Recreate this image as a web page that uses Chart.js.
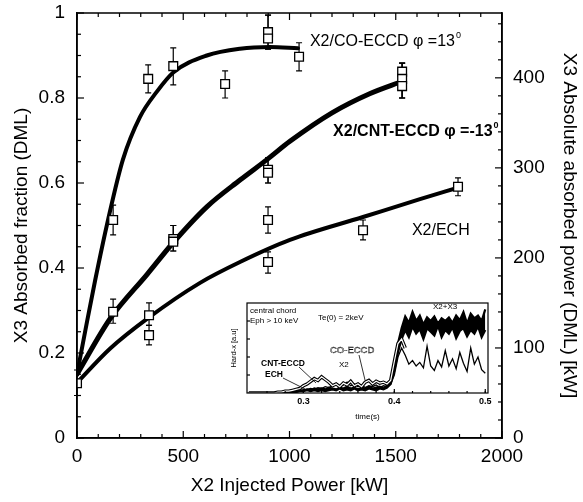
<!DOCTYPE html>
<html><head><meta charset="utf-8">
<script src="https://cdn.jsdelivr.net/npm/chart.js@4"></script>
<style>
html,body{margin:0;padding:0;background:#fff;}
#wrap{position:relative;width:583px;height:502px;overflow:hidden;}
#main{position:absolute;left:0;top:0;}
#inset{position:absolute;left:228px;top:300px;}
</style></head><body>
<div id="wrap">
<canvas id="main" width="583" height="502"></canvas>
<canvas id="inset" width="275" height="125"></canvas>
</div>
<script>
const FONT = "'Liberation Sans', Arial, Helvetica, sans-serif";

// ---------------- main chart data ----------------
const rightTickValues = [0, 100, 200, 300, 400];

// measured points (X2 injected power kW, X3 absorbed fraction) with error bars
const coX  = [170, 335, 453, 697, 899, 899, 1045];
const coY  = [0.513, 0.845, 0.875, 0.833, 0.955, 0.94, 0.897];
const coLo = [0.478, 0.812, 0.831, 0.800, 0.915, 0.915, 0.864];
const coHi = [0.548, 0.878, 0.918, 0.864, 0.995, 0.995, 0.930];

const cntX  = [170, 453, 453, 899, 899, 1530, 1530, 1530];
const cntY  = [0.297, 0.468, 0.462, 0.631, 0.624, 0.862, 0.845, 0.828];
const cntLo = [0.270, 0.440, 0.440, 0.600, 0.600, 0.800, 0.800, 0.800];
const cntHi = [0.327, 0.500, 0.500, 0.659, 0.659, 0.882, 0.882, 0.882];

const echX  = [0, 339, 339, 899, 899, 1346, 1793];
const echY  = [0.129, 0.289, 0.242, 0.513, 0.414, 0.489, 0.591];
const echLo = [0.100, 0.265, 0.219, 0.482, 0.388, 0.466, 0.570];
const echHi = [0.160, 0.318, 0.265, 0.544, 0.438, 0.513, 0.612];

// fitted curves
const coFitX = [0, 40, 85, 146, 216, 296, 376, 453, 611, 767, 908, 1040];
const coFitY = [0.15, 0.255, 0.37, 0.513, 0.655, 0.755, 0.815, 0.86, 0.9, 0.916, 0.92, 0.917];
const cntFitX = [0, 155, 330, 453, 611, 767, 894, 1002, 1200, 1377, 1535];
const cntFitY = [0.15, 0.28, 0.385, 0.46, 0.544, 0.607, 0.655, 0.698, 0.765, 0.81, 0.84];
const echFitX = [0, 155, 334, 579, 767, 1002, 1346, 1614, 1800];
const echFitY = [0.13, 0.21, 0.282, 0.365, 0.414, 0.466, 0.52, 0.562, 0.59];

// ---------------- inset data (time s, hard-x a.u.) ----------------
const insetTime = [0.240,0.244,0.248,0.252,0.256,0.260,0.264,0.268,0.272,0.276,
  0.280,0.284,0.288,0.292,0.296,0.300,0.304,0.308,0.312,0.316,
  0.320,0.324,0.328,0.332,0.336,0.340,0.344,0.348,0.352,0.356,
  0.360,0.364,0.368,0.372,0.376,0.380,0.384,0.388,0.392,0.396,
  0.400,0.404,0.408,0.412,0.416,0.420,0.424,0.428,0.432,0.436,
  0.440,0.444,0.448,0.452,0.456,0.460,0.464,0.468,0.472,0.476,
  0.480,0.484,0.488,0.492,0.496,0.500];
const traceX2X3a = [0,0,0,0,0,0,0,0,0,0.01,
  0.01,0.01,0.02,0.02,0.03,0.03,0.04,0.03,0.05,0.04,
  0.05,0.04,0.06,0.05,0.04,0.06,0.05,0.07,0.05,0.06,
  0.04,0.06,0.05,0.07,0.05,0.06,0.07,0.05,0.08,0.12,
  0.30,0.55,0.72,0.85,0.78,0.90,0.80,0.86,0.76,0.84,
  0.80,0.85,0.77,0.83,0.80,0.84,0.78,0.86,0.81,0.90,
  0.77,0.88,0.83,0.86,0.80,0.93];
const traceX2X3b = [0,0,0,0,0,0,0,0,0,0,
  0,0,0.01,0.01,0.02,0.02,0.03,0.02,0.03,0.02,
  0.03,0.02,0.03,0.04,0.03,0.05,0.03,0.04,0.03,0.05,
  0.03,0.04,0.03,0.05,0.04,0.03,0.05,0.04,0.06,0.10,
  0.25,0.45,0.60,0.70,0.62,0.74,0.66,0.71,0.60,0.72,
  0.68,0.64,0.75,0.62,0.70,0.66,0.73,0.61,0.69,0.72,
  0.63,0.70,0.66,0.74,0.62,0.70];
const traceX2 = [0,0,0,0,0,0,0,0,0,0,
  0,0.01,0.01,0.02,0.02,0.03,0.04,0.05,0.04,0.06,
  0.05,0.07,0.06,0.08,0.10,0.07,0.09,0.12,0.08,0.10,
  0.07,0.09,0.06,0.08,0.07,0.09,0.06,0.08,0.07,0.10,
  0.20,0.40,0.50,0.42,0.32,0.36,0.30,0.34,0.28,0.52,
  0.30,0.25,0.36,0.29,0.47,0.30,0.38,0.27,0.45,0.33,
  0.24,0.50,0.32,0.40,0.26,0.22];
const traceEccd = [0,0,0,0,0,0,0,0,0.01,0.01,
  0.02,0.02,0.03,0.04,0.05,0.08,0.10,0.13,0.16,0.14,
  0.18,0.15,0.12,0.08,0.10,0.07,0.11,0.09,0.13,0.08,
  0.10,0.07,0.12,0.14,0.10,0.13,0.11,0.12,0.10,0.14,
  0.35,0.55,0.60,0.50,null,null,null,null,null,null,
  null,null,null,null,null,null,null,null,null,null,
  null,null,null,null,null,null];

// ---------------- helpers ----------------
const pts = (xs, ys) => xs.map((v, i) => ({x: v, y: ys[i]}));
const errSeries = [
  {x: coX, lo: coLo, hi: coHi},
  {x: cntX, lo: cntLo, hi: cntHi},
  {x: echX, lo: echLo, hi: echHi}
];
const noPad = s => { s.paddingTop = 0; s.paddingBottom = 0; s.paddingLeft = 0; s.paddingRight = 0; };

const fitDs = (xs, ys, w) => ({
  type: 'scatter', data: pts(xs, ys), showLine: true, borderColor: '#000',
  borderWidth: w, pointRadius: 0, cubicInterpolationMode: 'monotone',
  borderCapStyle: 'round', order: 2, yAxisID: 'y'
});
const markDs = (xs, ys) => ({
  type: 'scatter', data: pts(xs, ys), showLine: false, pointStyle: 'rect',
  pointRadius: 6.2, borderWidth: 1.3, borderColor: '#000', backgroundColor: '#fff',
  pointBorderColor: '#000', pointBackgroundColor: '#fff', order: 0, yAxisID: 'y'
});

const errorBars = {
  id: 'errorBars',
  beforeDatasetsDraw(chart) {
    const {ctx, scales: {x, y}} = chart;
    ctx.save();
    ctx.strokeStyle = '#000'; ctx.lineWidth = 1.2;
    for (const s of errSeries) {
      s.x.forEach((xv, i) => {
        const px = x.getPixelForValue(xv);
        const lo = y.getPixelForValue(s.lo[i]);
        const hi = y.getPixelForValue(s.hi[i]);
        ctx.beginPath();
        ctx.moveTo(px, lo); ctx.lineTo(px, hi);
        ctx.moveTo(px - 3, lo); ctx.lineTo(px + 3, lo);
        ctx.moveTo(px - 3, hi); ctx.lineTo(px + 3, hi);
        ctx.stroke();
      });
    }
    ctx.restore();
  }
};

const frameTicks = {
  id: 'frameTicks',
  afterDraw(chart) {
    const {ctx, chartArea: a, scales: {x, y, y2}} = chart;
    ctx.save();
    ctx.strokeStyle = '#000';
    ctx.lineWidth = 1.5;
    ctx.strokeRect(a.left, a.top, a.right - a.left, a.bottom - a.top);
    ctx.lineWidth = 1.2;
    const seg = (x1, y1, x2, y2_) => { ctx.beginPath(); ctx.moveTo(x1, y1); ctx.lineTo(x2, y2_); ctx.stroke(); };
    for (let v = 0; v <= 2000; v += 100) {
      const px = x.getPixelForValue(v), L = (v % 500 === 0) ? 7 : 4;
      seg(px, a.bottom, px, a.bottom - L);
      seg(px, a.top, px, a.top + L);
    }
    for (let k = 0; k <= 20; k++) {
      const v = k * 0.05, py = y.getPixelForValue(v), L = (k % 4 === 0) ? 7 : 4;
      seg(a.left, py, a.left + L, py);
    }
    for (let v = 0; v <= 460; v += 20) {
      const py = y2.getPixelForValue(v), L = (v % 100 === 0) ? 7 : 4;
      seg(a.right, py, a.right - L, py);
    }
    ctx.restore();
  }
};

const curveLabels = {
  id: 'curveLabels',
  afterDatasetsDraw(chart) {
    const {ctx, scales: {x, y}} = chart;
    ctx.save();
    ctx.fillStyle = '#000';
    ctx.textBaseline = 'middle';
    ctx.textAlign = 'left';
    const put = (xv, yv, txt, bold, sup) => {
      ctx.font = (bold ? 'bold ' : '') + '16px ' + FONT;
      const px = x.getPixelForValue(xv), py = y.getPixelForValue(yv);
      ctx.fillText(txt, px, py);
      if (sup) {
        const w = ctx.measureText(txt).width;
        ctx.font = (bold ? 'bold ' : '') + '9px ' + FONT;
        ctx.fillText(sup, px + w + 1, py - 6);
      }
    };
    put(1096, 0.932, 'X2/CO-ECCD \u03c6 =13', false, '0');
    put(1205, 0.72, 'X2/CNT-ECCD \u03c6 =-13', true, '0');
    put(1576, 0.489, 'X2/ECH', false, null);
    ctx.restore();
  }
};

const mainChart = new Chart(document.getElementById('main'), {
  type: 'scatter',
  data: {
    datasets: [
      fitDs(coFitX, coFitY, 4),
      fitDs(cntFitX, cntFitY, 5),
      fitDs(echFitX, echFitY, 4),
      markDs(coX, coY),
      markDs(cntX, cntY),
      markDs(echX, echY)
    ]
  },
  options: {
    responsive: false, animation: false, events: [], devicePixelRatio: 1,
    layout: {padding: {top: 13, left: 0, right: 0, bottom: 0}},
    plugins: {legend: {display: false}, tooltip: {enabled: false}},
    scales: {
      x: {
        type: 'linear', position: 'bottom', min: 0, max: 2000,
        grid: {display: false, drawTicks: false}, border: {display: true, color: '#000', width: 1.5},
        ticks: {stepSize: 500, autoSkip: false, maxRotation: 0, color: '#000', padding: 7,
          font: {family: FONT, size: 19}, callback: v => String(v)},
        title: {display: true, text: 'X2 Injected Power [kW]', color: '#000',
          font: {family: FONT, size: 19}, padding: {top: 0, bottom: 5}},
        afterFit: s => { s.height = 64; noPad(s); }
      },
      y: {
        type: 'linear', position: 'left', min: 0, max: 1,
        grid: {display: false, drawTicks: false}, border: {display: true, color: '#000', width: 1.5},
        ticks: {stepSize: 0.2, autoSkip: false, color: '#000', padding: 12,
          font: {family: FONT, size: 19},
          callback: v => (v === 0 ? '0' : (Math.abs(v - 1) < 1e-9 ? '1' : Number(v).toFixed(1)))},
        title: {display: true, text: 'X3 Absorbed fraction (DML)', color: '#000',
          font: {family: FONT, size: 19}, padding: {top: 10, bottom: 0}},
        afterFit: s => { s.width = 77; noPad(s); }
      },
      y2: {
        type: 'linear', position: 'right', min: 0, max: 472,
        grid: {display: false, drawTicks: false}, border: {display: true, color: '#000', width: 1.5},
        afterBuildTicks: s => { s.ticks = rightTickValues.map(v => ({value: v})); },
        ticks: {autoSkip: false, color: '#000', padding: 11, font: {family: FONT, size: 19},
          callback: v => String(v)},
        title: {display: true, text: 'X3 Absolute absorbed power (DML) [kW]', color: '#000',
          font: {family: FONT, size: 19}, padding: {top: 2, bottom: 0}},
        afterFit: s => { s.width = 81; noPad(s); }
      }
    }
  },
  plugins: [errorBars, curveLabels, frameTicks]
});
// make sure the plot frame lands where the reference has it
(function () {
  const ca = mainChart.chartArea, pad = mainChart.options.layout.padding;
  const dTop = 13 - ca.top, dBottom = ca.bottom - 438;
  if (Math.abs(dTop) > 0.5 || Math.abs(dBottom) > 0.5) {
    pad.top += dTop; pad.bottom += dBottom;
    mainChart.update();
  }
})();

// ---------------- inset ----------------
const insetDeco = {
  id: 'insetDeco',
  beforeDraw(chart) {
    const {ctx, chartArea: a} = chart;
    ctx.save(); ctx.fillStyle = '#fff';
    ctx.fillRect(0, 0, a.right + 1, chart.height);
    ctx.restore();
  },
  afterDraw(chart) {
    const {ctx, chartArea: a, scales: {x, y}} = chart;
    ctx.save();
    ctx.strokeStyle = '#000'; ctx.lineWidth = 1.2;
    ctx.strokeRect(a.left, a.top, a.right - a.left, a.bottom - a.top);
    const seg = (x1, y1, x2, y2) => { ctx.beginPath(); ctx.moveTo(x1, y1); ctx.lineTo(x2, y2); ctx.stroke(); };
    for (let k = 1; k < 5; k++) { const py = y.getPixelForValue(k * 0.2); seg(a.left, py, a.left + 3, py); }
    for (let k = 13; k <= 25; k++) {
      const v = k * 0.02; const px = x.getPixelForValue(v);
      if (px > a.left && px < a.right) seg(px, a.bottom, px, a.bottom - 2);
    }
    [0.3, 0.4, 0.5].forEach(v => { const px = x.getPixelForValue(v); seg(px, a.bottom, px, a.bottom - 4); });
    ctx.fillStyle = '#000'; ctx.textBaseline = 'middle'; ctx.textAlign = 'left';
    const L = a.left, T = a.top;
    ctx.font = '8px ' + FONT;
    ctx.fillText('central chord', L + 3, T + 8);
    ctx.fillText('Eph > 10 keV', L + 3, T + 18);
    ctx.fillText('Te(0) = 2keV', L + 71, T + 15);
    ctx.fillText('X2+X3', L + 186, T + 4);
    ctx.fillText('X2', L + 92, T + 62);
    ctx.font = 'bold 8.5px ' + FONT;
    ctx.fillText('CNT-ECCD', L + 14, T + 61);
    ctx.fillText('ECH', L + 18, T + 72);
    ctx.font = '9.5px ' + FONT;
    ctx.lineWidth = 0.45;
    ctx.strokeText('CO-ECCD', L + 83, T + 47);
    ctx.lineWidth = 0.8;
    seg(L + 52, T + 64, L + 69, T + 80);
    seg(L + 36, T + 75, L + 58, T + 86);
    seg(L + 112, T + 52, L + 118, T + 77);
    ctx.restore();
  }
};

const traceDs = (ys, w, color, order, fill) => ({
  type: 'line', data: pts(insetTime, ys), borderColor: color, borderWidth: w,
  backgroundColor: '#000', pointRadius: 0, tension: 0, spanGaps: false,
  fill: fill === undefined ? false : fill, order: order
});

new Chart(document.getElementById('inset'), {
  type: 'line',
  data: {
    datasets: [
      traceDs(traceEccd, 1.2, '#fff', 0),
      traceDs(traceEccd, 3.4, '#000', 1),
      traceDs(traceX2, 1.3, '#000', 2),
      traceDs(traceX2X3a, 2.2, '#000', 3),
      traceDs(traceX2X3b, 2.2, '#000', 4, 3)
    ]
  },
  options: {
    responsive: false, animation: false, events: [], devicePixelRatio: 1,
    layout: {padding: {top: 3, right: 15, left: 0, bottom: 0}},
    plugins: {legend: {display: false}, tooltip: {enabled: false}, filler: {propagate: false}},
    scales: {
      x: {
        type: 'linear', min: 0.238, max: 0.503,
        grid: {display: false, drawTicks: false}, border: {display: false},
        afterBuildTicks: s => { s.ticks = [0.3, 0.4, 0.5].map(v => ({value: v})); },
        ticks: {autoSkip: false, maxRotation: 0, color: '#000', padding: 3,
          font: {family: FONT, size: 9, weight: 'bold'}, callback: v => Number(v).toFixed(1)},
        title: {display: true, text: 'time(s)', color: '#000', font: {family: FONT, size: 8},
          padding: {top: 0, bottom: 3}},
        afterFit: s => { s.height = 32; noPad(s); }
      },
      y: {
        type: 'linear', min: 0, max: 1,
        grid: {display: false, drawTicks: false}, border: {display: false},
        ticks: {display: false},
        title: {display: true, text: 'Hard-x [a.u]', color: '#000', font: {family: FONT, size: 7.5},
          padding: {top: 1, bottom: 0}},
        afterFit: s => { s.width = 19; noPad(s); }
      }
    }
  },
  plugins: [insetDeco]
});
</script>
</body></html>
